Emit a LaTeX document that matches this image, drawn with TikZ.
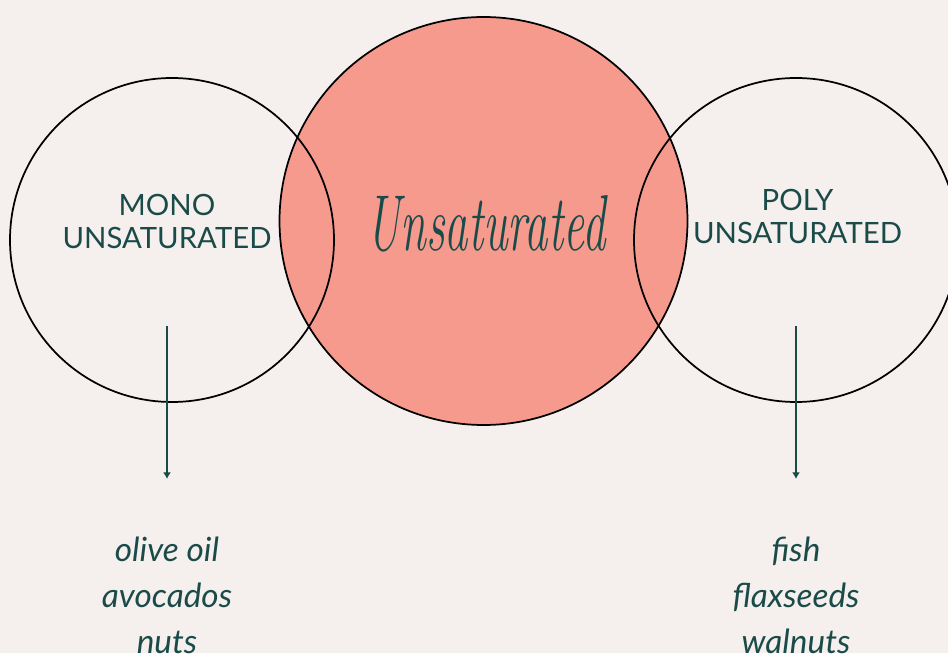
\documentclass[tikz,border=0pt]{standalone}
\usepackage{fontspec}
\usepackage{graphicx}
\newfontfamily\lato{Lato}
\usetikzlibrary{arrows.meta}
\definecolor{paper}{HTML}{F5F0EE}
\definecolor{salmon}{HTML}{F59A8C}
\definecolor{fatgreen}{HTML}{1B4B49}

\begin{document}
\begin{tikzpicture}[x=0.75pt,y=0.75pt,every node/.style={text=fatgreen,align=center}]
\fill[paper] (0,0) rectangle (948,653);
\useasboundingbox (0,0) rectangle (948,653);

\fill[salmon] (483.5,432) circle[radius=204];
\draw[line width=1.3pt] (483.5,432) circle[radius=204];
\draw[line width=1.3pt] (172,413) circle[radius=162];
\draw[line width=1.3pt] (796,413) circle[radius=162];

\node[font=\lato\fontsize{22}{24.75}\selectfont] (mono) at (167,431) {MONO\\UNSATURATED};
\node[font=\lato\fontsize{22}{24.75}\selectfont] (poly) at (797.5,436) {POLY\\UNSATURATED};
\node[font=\itshape\fontsize{35}{40}\selectfont] (unsat) at (486,429) {\scalebox{1}[1.7]{Unsaturated}};

\coordinate (monotop) at (167,327);
\coordinate (monoend) at (167,174);
\coordinate (polytop) at (796,327);
\coordinate (polyend) at (796,174);
\draw[fatgreen,line width=1.3pt,-{Latex[length=5pt,width=6pt]}] (monotop) -- (monoend);
\draw[fatgreen,line width=1.3pt,-{Latex[length=5pt,width=6pt]}] (polytop) -- (polyend);

\node[font=\lato\itshape\fontsize{25}{34.5}\selectfont] (monofood) at (167,58) {olive oil\\avocados\\nuts};
\node[font=\lato\itshape\fontsize{25}{34.5}\selectfont] (polyfood) at (796,58) {fish\\flaxseeds\\walnuts};
\end{tikzpicture}
\end{document}
